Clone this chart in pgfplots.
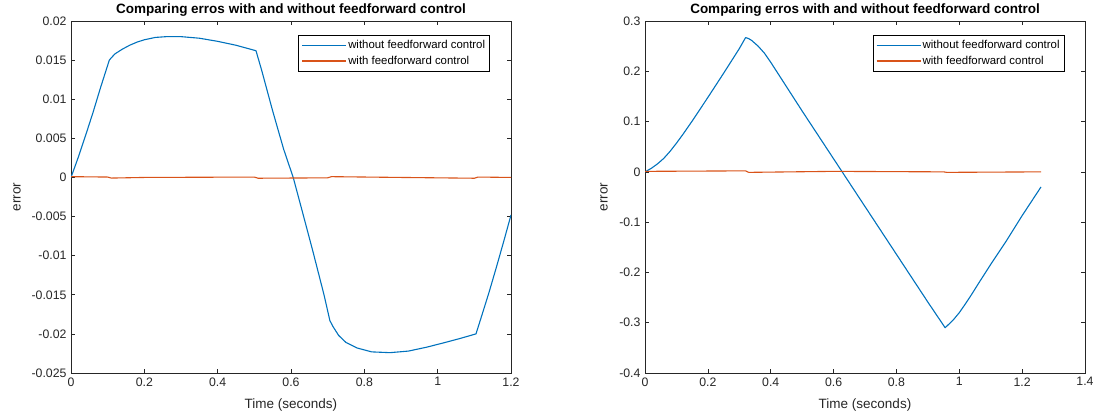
\documentclass[border=0pt]{standalone}
\usepackage{pgfplots}
\pgfplotsset{compat=1.18}
\usepackage{fontspec}
\setmainfont{Liberation Sans}
\definecolor{mblue}{rgb}{0,0.447,0.741}
\definecolor{morange}{rgb}{0.85,0.325,0.098}
\definecolor{axgray}{rgb}{0.15,0.15,0.15}
\pgfplotsset{
  mystyle/.style={
    scale only axis, width=440bp, height=352bp,
    scaled x ticks=false, scaled y ticks=false,
    every axis title shift=0pt,
    axis line style={axgray, line width=0.6bp},
    tick style={axgray, line width=0.6bp},
    major tick length=4.4bp,
    tick align=inside, xtick pos=both, ytick pos=both,
    tick label style={font=\fontsize{12.3bp}{14bp}\selectfont, text=axgray},
    label style={font=\fontsize{13.5bp}{15bp}\selectfont, text=axgray},
    title style={font=\fontsize{13.5bp}{15bp}\selectfont\bfseries, at={(axis description cs:0.5,1)}, anchor=center, yshift=11bp},
    xlabel style={at={(axis description cs:0.5,0)}, anchor=center, yshift=-32bp},
    xticklabel style={yshift=-1bp},
    yticklabel style={xshift=-1bp},
    legend style={font=\fontsize{11.4bp}{13bp}\selectfont, draw=black, line width=0.5bp,
      anchor=north east, inner xsep=3bp, inner ysep=3.5bp, row sep=3bp,
      cells={anchor=west}, nodes={inner sep=1.5bp}},
    legend image code/.code={\path (-6bp,0bp) -- (38bp,0bp); \draw[#1, line width=1bp] (0bp,0bp) -- (38bp,0bp);},
    every axis plot/.append style={line width=1.1bp, line join=round},
    clip=true,
  }
}
\begin{document}
\begin{tikzpicture}
\path[use as bounding box] (0,0) rectangle (1099bp,416bp);
% ---------- left axis ----------
\begin{axis}[mystyle, at={(71bp,43bp)}, anchor=south west,
  xmin=0, xmax=1.2, ymin=-0.025, ymax=0.02,
  xtick={0,0.2,0.4,0.6,0.8,1,1.2},
  xticklabels={0,0.2,0.4,0.6,0.8,1,1.2},
  ytick={-0.025,-0.02,-0.015,-0.01,-0.005,0,0.005,0.01,0.015,0.02},
  yticklabels={-0.025,-0.02,-0.015,-0.01,-0.005,0,0.005,0.01,0.015,0.02},
  title={Comparing erros with and without feedforward control},
  xlabel={Time (seconds)}, ylabel={error},
  ylabel style={at={(axis description cs:0,0.5)}, anchor=center, yshift=54bp},
  legend style={at={(axis description cs:0.952,0.960)}},
]
\addplot[mblue] coordinates {
(0,0) (0.02,0.0026) (0.04,0.0054) (0.06,0.0083) (0.08,0.0114) (0.1045,0.0150)
(0.11,0.0153) (0.12,0.0158) (0.14,0.0164) (0.16,0.0169) (0.18,0.0173) (0.2,0.0176) (0.23,0.0179)
(0.26,0.0180) (0.3,0.0180) (0.35,0.0178) (0.4,0.0174) (0.45,0.0169) (0.5045,0.0162)
(0.52,0.0137) (0.55,0.0085) (0.58,0.0036) (0.606,0.0) (0.63,-0.0042) (0.66,-0.0095)
(0.69,-0.0150) (0.706,-0.0183) (0.715,-0.0191) (0.73,-0.0202) (0.75,-0.0211) (0.78,-0.0218)
(0.82,-0.0223) (0.87,-0.0224) (0.92,-0.0222) (0.97,-0.0217) (1.02,-0.0211)
(1.06,-0.0206) (1.1045,-0.0200) (1.12,-0.0177) (1.14,-0.0147) (1.16,-0.0115)
(1.18,-0.0082) (1.2,-0.0048)
};
\addlegendentry{without feedforward control}
\addplot[morange] coordinates {
(0,0.0001) (0.1,0.00005) (0.11,-0.00008) (0.2,0) (0.5,0.00005) (0.51,-0.0001)
(0.7,-0.00005) (0.71,0.0001) (0.9,0) (1.1,-0.0001) (1.11,0.00005) (1.2,0)
};
\addlegendentry{with feedforward control}
\end{axis}
% ---------- right axis ----------
\begin{axis}[mystyle, at={(645bp,43bp)}, anchor=south west,
  xmin=0, xmax=1.4, ymin=-0.4, ymax=0.3,
  xtick={0,0.2,0.4,0.6,0.8,1,1.2,1.4},
  xticklabels={0,0.2,0.4,0.6,0.8,1,1.2,1.4},
  ytick={-0.4,-0.3,-0.2,-0.1,0,0.1,0.2,0.3},
  yticklabels={-0.4,-0.3,-0.2,-0.1,0,0.1,0.2,0.3},
  title={Comparing erros with and without feedforward control},
  xlabel={Time (seconds)}, ylabel={error},
  ylabel style={at={(axis description cs:0,0.5)}, anchor=center, yshift=41bp},
  legend style={at={(axis description cs:0.953,0.960)}},
]
\addplot[mblue] coordinates {
(0,0) (0.02,0.007) (0.04,0.016) (0.06,0.027) (0.08,0.041) (0.1,0.057) (0.12,0.074)
(0.15,0.101) (0.2,0.148) (0.25,0.196) (0.3,0.245) (0.32,0.267)
(0.33,0.265) (0.34,0.261) (0.36,0.250) (0.38,0.236) (0.4,0.218)
(0.5,0.121) (0.6,0.026) (0.7,-0.069) (0.8,-0.164) (0.9,-0.259) (0.955,-0.310)
(0.98,-0.295) (1.0,-0.280) (1.02,-0.262) (1.04,-0.243) (1.06,-0.223)
(1.1,-0.184) (1.15,-0.137) (1.2,-0.087) (1.26,-0.030)
};
\addlegendentry{without feedforward control}
\addplot[morange] coordinates {
(0,0.001) (0.32,0.002) (0.33,-0.001) (0.6,0.001) (0.95,0.0) (0.96,-0.001) (1.26,0)
};
\addlegendentry{with feedforward control}
\end{axis}
\end{tikzpicture}
\end{document}
